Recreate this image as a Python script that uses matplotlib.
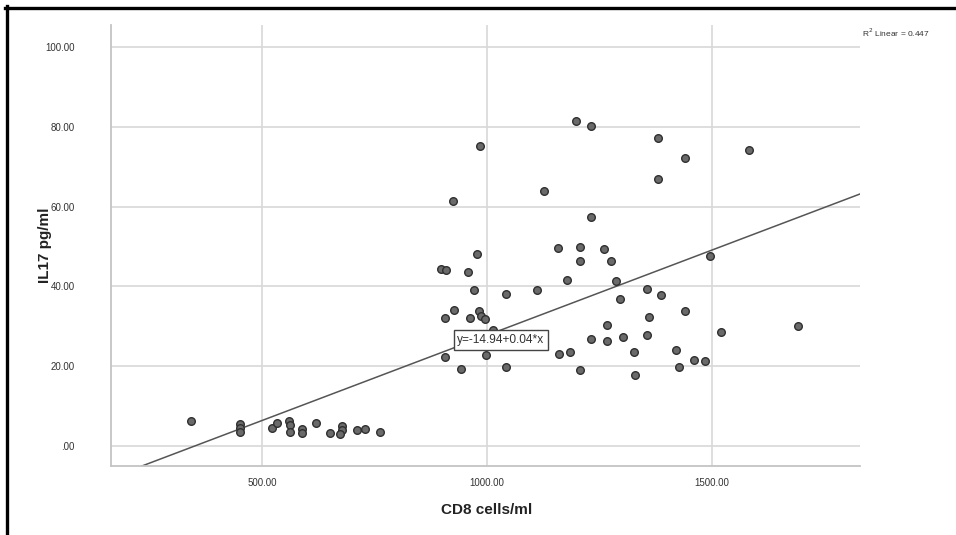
import matplotlib
matplotlib.use("Agg")
import matplotlib.pyplot as plt
from matplotlib.lines import Line2D
import numpy as np

plt.rcParams['font.family'] = ['Liberation Sans', 'DejaVu Sans']

# ---- data ----
cd8_cells = [342, 451, 451, 451, 521, 533, 560, 563, 563, 588, 588, 620, 651, 677, 677, 673, 710, 728, 762,
             978, 897, 909, 957, 971, 1041, 1110, 1177, 927, 907, 962, 981, 987, 996, 1014, 907, 997, 942,
             1041, 1160, 1185,
             984, 924, 1127, 1158,
             1197, 1231, 1379, 1440, 1379, 1231, 1206, 1260,
             1207, 1275, 1496, 1286, 1356, 1386, 1296, 1440, 1360, 1267, 1231, 1267, 1303, 1356, 1327,
             1421, 1207, 1427, 1461, 1484, 1329, 1520,
             1582, 1692]
il17 = [6.3, 5.4, 4.4, 3.6, 4.6, 5.8, 6.3, 5.2, 3.4, 4.3, 3.3, 5.8, 3.3, 5.0, 4.0, 3.0, 4.0, 4.2, 3.6,
        48.0, 44.4, 44.2, 43.6, 39.2, 38.0, 39.2, 41.7, 34.0, 32.1, 32.1, 33.8, 32.5, 31.9, 29.2, 22.3, 22.9, 19.2,
        19.8, 23.0, 23.6,
        75.3, 61.5, 64.0, 49.7,
        81.5, 80.3, 77.3, 72.2, 66.8, 57.3, 49.8, 49.4,
        46.3, 46.3, 47.5, 41.3, 39.4, 37.9, 36.8, 33.8, 32.3, 30.3, 26.7, 26.3, 27.2, 27.8, 23.6,
        24.0, 19.0, 19.8, 21.5, 21.3, 17.9, 28.6,
        74.2, 30.0]

fit_intercept = -14.94
fit_slope = 0.0427
equation_label = "y=-14.94+0.04*x"
r2_label = "R$^2$ Linear = 0.447"

x_ticks = [500, 1000, 1500]
x_ticklabels = ["500.00", "1000.00", "1500.00"]
y_ticks = [0, 20, 40, 60, 80, 100]
y_ticklabels = [".00", "20.00", "40.00", "60.00", "80.00", "100.00"]

# ---- figure ----
fig = plt.figure(figsize=(9.56, 5.35), dpi=100)
ax = fig.add_axes([111/956, (535-466)/535, (860-111)/956, (466-25)/535])

xmin, xmax = 164, 1829
ymin, ymax = -5, 105.5
ax.set_xlim(xmin, xmax)
ax.set_ylim(ymin, ymax)

grid_col = '#d8d8d8'
for t in x_ticks:
    ax.axvline(t, color=grid_col, lw=1.2, zorder=1)
for t in y_ticks:
    ax.axhline(t, color=grid_col, lw=1.2, zorder=1)

xs = np.array([xmin, xmax])
ax.plot(xs, fit_intercept + fit_slope * xs, color='#555555', lw=1.1, zorder=2)

ax.scatter(cd8_cells, il17, s=30, facecolor='#6a6a6a', edgecolor='#2f2f2f',
           linewidth=1.0, zorder=3)

ax.text(1031, 26.6, equation_label, ha='center', va='center', fontsize=8.6, color='#333333',
        zorder=4,
        bbox=dict(boxstyle='square,pad=0.32', facecolor='white', edgecolor='#444444', linewidth=1))

ax.set_xticks(x_ticks)
ax.set_xticklabels(x_ticklabels)
ax.set_yticks(y_ticks)
ax.set_yticklabels(y_ticklabels)
ax.tick_params(axis='both', length=0, labelsize=7, colors='#333333')
ax.tick_params(axis='x', pad=9)
ax.tick_params(axis='y', pad=26)

for s in ['top', 'right']:
    ax.spines[s].set_visible(False)
for s in ['left', 'bottom']:
    ax.spines[s].set_color('#c4c4c4')
    ax.spines[s].set_linewidth(1.3)

fig.text(487/956, 1 - 510/535, "CD8 cells/ml", ha='center', va='center',
         fontsize=11, fontweight='bold', color='#222222')
fig.text(45/956, 1 - 245/535, "IL17 pg/ml", ha='center', va='center', rotation=90,
         fontsize=11, fontweight='bold', color='#222222')
fig.text(862/956, 1 - 33/535, r2_label, ha='left', va='center', fontsize=6, color='#333333')

# black frame lines (top and left) from the screenshot
fig.add_artist(Line2D([5/956, 1], [1 - 7.5/535, 1 - 7.5/535], color='black', lw=2.4,
                      transform=fig.transFigure))
fig.add_artist(Line2D([7/956, 7/956], [0, 1 - 6/535], color='black', lw=2.4,
                      transform=fig.transFigure))

fig.savefig("out.png", dpi=100, facecolor='white')
